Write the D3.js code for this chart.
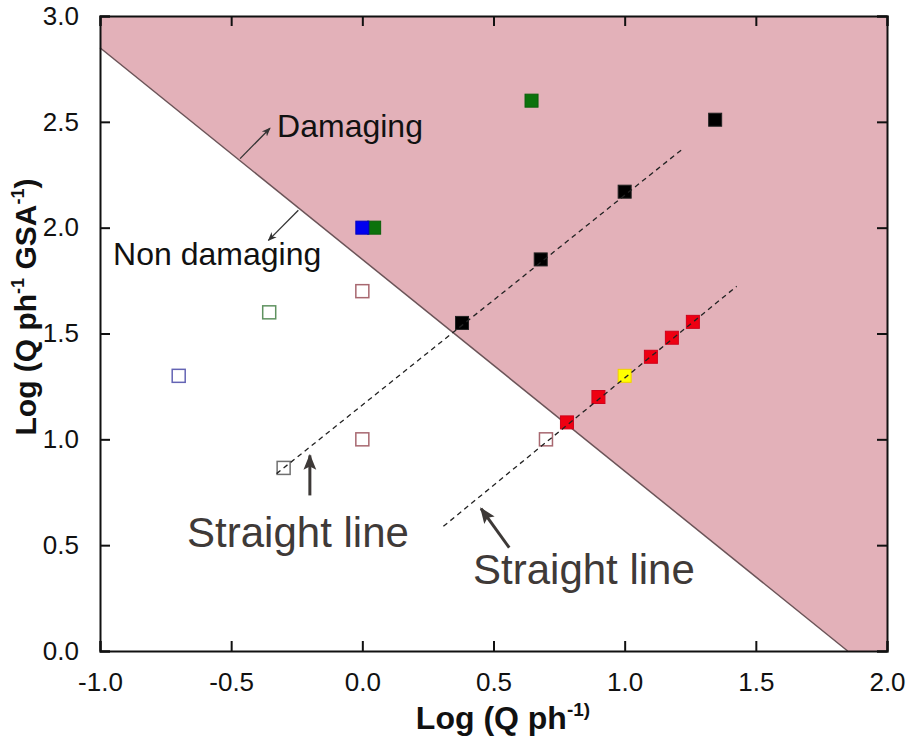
<!DOCTYPE html>
<html>
<head>
<meta charset="utf-8">
<script src="https://cdn.jsdelivr.net/npm/d3@7"></script>
<style>
  body { margin: 0; background: #fff; }
  text { font-family: "Liberation Sans", Arial, sans-serif; }
</style>
</head>
<body>
<div id="chart"></div>
<script>
// data
const xTicks = [-1.0, -0.5, 0.0, 0.5, 1.0, 1.5, 2.0]
const yTicks = [0.0, 0.5, 1.0, 1.5, 2.0, 2.5, 3.0]

const blackX = [0.38, 0.68, 1.0, 1.345]
const blackY = [1.55, 1.85, 2.17, 2.51]
const redX = [0.78, 0.9, 1.1, 1.18, 1.26]
const redY = [1.08, 1.2, 1.39, 1.48, 1.555]
const yellowX = [1.0]
const yellowY = [1.3]
const greenX = [0.045, 0.645]
const greenY = [2.0, 2.6]
const blueX = [0.0]
const blueY = [2.0]

const openBrownX = [0.0, 0.0, 0.7]
const openBrownY = [1.7, 1.0, 1.0]
const openGreenX = [-0.355]
const openGreenY = [1.6]
const openBlueX = [-0.7]
const openBlueY = [1.3]
const openBlackX = [-0.3]
const openBlackY = [0.865]

// boundary between damaging / non damaging, and the two straight lines
const boundaryX = [-1.0, 1.85]
const boundaryY = [2.85, 0.0]
const line1X = [-0.327, 1.224]
const line1Y = [0.838, 2.375]
const line2X = [0.309, 1.427]
const line2Y = [0.589, 1.723]

// set the dimensions and margins of the graph
var margin = {top: 16, right: 21, bottom: 94, left: 100},
    width = 908 - margin.left - margin.right,
    height = 745 - margin.top - margin.bottom;

let svg = d3.select("#chart")
  .append("svg")
    .attr("width", width + margin.left + margin.right)
    .attr("height", height + margin.top + margin.bottom)

let g = svg.append("g")
    .attr("transform", `translate(${margin.left}, ${margin.top})`);

const x = d3.scaleLinear().domain([-1, 2]).range([0, width])
const y = d3.scaleLinear().domain([0, 3]).range([height, 0])

const pts = (xs, ys) => xs.map((v, i) => [v, ys[i]])
const fmt = d => d.toFixed(1)   // plain hyphen for negatives, like the original

// damaging region (above the boundary)
const region = [
  [boundaryX[0], boundaryY[0]], [-1, 3], [2, 3], [2, 0], [boundaryX[1], boundaryY[1]]
]
g.append("path")
  .attr("d", d3.line().x(d => x(d[0])).y(d => y(d[1]))(region) + "Z")
  .attr("fill", "#e3b1b9")

g.append("path")
  .attr("d", d3.line().x(d => x(d[0])).y(d => y(d[1]))(pts(boundaryX, boundaryY)))
  .attr("stroke", "#6b5458")
  .attr("stroke-width", 1.5)
  .attr("fill", "none")

// markers
const size = 13
const drawSquares = (xs, ys, fill, stroke, sw) => {
  g.append("g").selectAll("rect")
    .data(pts(xs, ys))
    .join("rect")
    .attr("x", d => x(d[0]) - size / 2)
    .attr("y", d => y(d[1]) - size / 2)
    .attr("width", size)
    .attr("height", size)
    .attr("fill", fill)
    .attr("stroke", stroke)
    .attr("stroke-width", sw)
}

drawSquares(openBrownX, openBrownY, "none", "#a86870", 1.5)
drawSquares(openGreenX, openGreenY, "none", "#5f9260", 1.5)
drawSquares(openBlueX, openBlueY, "none", "#6464b4", 1.5)
drawSquares(openBlackX, openBlackY, "none", "#707070", 1.5)
drawSquares(blackX, blackY, "#000", "#222", 1)
drawSquares(redX, redY, "#ee0012", "#d0001a", 1)
drawSquares(yellowX, yellowY, "#ffff00", "#f0d000", 1)
drawSquares(greenX, greenY, "#0c720c", "#0a600a", 1)
drawSquares(blueX, blueY, "#0000f0", "#0000c0", 1)

// dashed straight lines
;[[line1X, line1Y], [line2X, line2Y]].forEach(l => {
  g.append("path")
    .attr("d", d3.line().x(d => x(d[0])).y(d => y(d[1]))(pts(l[0], l[1])))
    .attr("stroke", "#222")
    .attr("stroke-width", 1.3)
    .attr("stroke-dasharray", "5,4")
    .attr("fill", "none")
})

// axes, ticks inward on all four sides
const tickLen = 10
g.append("g")
  .attr("transform", `translate(0, ${height})`)
  .call(d3.axisBottom(x).tickValues(xTicks).tickSize(-tickLen).tickPadding(tickLen + 12).tickFormat(fmt))
g.append("g")
  .call(d3.axisTop(x).tickValues(xTicks).tickSize(-tickLen).tickFormat(""))
g.append("g")
  .call(d3.axisLeft(y).tickValues(yTicks).tickSize(-tickLen).tickPadding(tickLen + 11).tickFormat(fmt))
g.append("g")
  .attr("transform", `translate(${width}, 0)`)
  .call(d3.axisRight(y).tickValues(yTicks).tickSize(-tickLen).tickFormat(""))

g.selectAll(".domain").attr("stroke", "#111").attr("stroke-width", 2)
g.selectAll(".tick line").attr("stroke", "#111").attr("stroke-width", 2)
g.selectAll(".tick text")
  .style("font-size", "26px")
  .attr("fill", "#111")
  .style("font-family", '"Liberation Sans", Arial, sans-serif')

// arrow heads
const defs = svg.append("defs")
defs.append("marker")
  .attr("id", "thin")
  .attr("viewBox", "0 0 10 10")
  .attr("refX", 9).attr("refY", 5)
  .attr("markerWidth", 9).attr("markerHeight", 9)
  .attr("markerUnits", "userSpaceOnUse")
  .attr("orient", "auto")
  .append("path").attr("d", "M0,1 L10,5 L0,9 L3,5 Z").attr("fill", "#333")
defs.append("marker")
  .attr("id", "thick")
  .attr("viewBox", "0 0 10 10")
  .attr("refX", 9).attr("refY", 5)
  .attr("markerWidth", 16).attr("markerHeight", 16)
  .attr("markerUnits", "userSpaceOnUse")
  .attr("orient", "auto")
  .append("path").attr("d", "M0,1 L10,5 L0,9 L2,5 Z").attr("fill", "#3d3937")

const arrow = (x1, y1, x2, y2, m, color, sw) => {
  g.append("line")
    .attr("x1", x(x1)).attr("y1", y(y1))
    .attr("x2", x(x2)).attr("y2", y(y2))
    .attr("stroke", color)
    .attr("stroke-width", sw)
    .attr("marker-end", `url(#${m})`)
}
arrow(-0.466, 2.326, -0.352, 2.47, "thin", "#333", 1.3)
arrow(-0.244, 2.082, -0.358, 1.94, "thin", "#333", 1.3)
arrow(-0.2, 0.735, -0.2, 0.924, "thick", "#3d3937", 3)
arrow(0.56, 0.488, 0.4525, 0.673, "thick", "#3d3937", 3)

const label = (tx, ty, str, size, color) => {
  g.append("text")
    .attr("x", x(tx)).attr("y", y(ty))
    .text(str)
    .style("font-size", size + "px")
    .attr("fill", color)
}
label(-0.325, 2.427, "Damaging", 32, "#111")
label(-0.95, 1.822, "Non damaging", 32, "#111")
label(-0.668, 0.49, "Straight line", 42, "#3f3a38")
label(0.422, 0.315, "Straight line", 42, "#3f3a38")

// axis titles
let xt = svg.append("text")
  .attr("x", 503)
  .attr("y", 729)
  .attr("text-anchor", "middle")
  .style("font-size", "32px")
  .attr("font-weight", "bold")
  .attr("fill", "#111")
xt.append("tspan").text("Log (Q ph")
xt.append("tspan").text("-1)").attr("dy", -13).style("font-size", "19px")

let yt = svg.append("text")
  .attr("transform", "translate(36, 307) rotate(-90)")
  .attr("text-anchor", "middle")
  .style("font-size", "30px")
  .attr("font-weight", "bold")
  .attr("fill", "#111")
yt.append("tspan").text("Log (Q ph")
yt.append("tspan").text("-1").attr("dy", -12).style("font-size", "18px")
yt.append("tspan").text(" GSA").attr("dy", 12)
yt.append("tspan").text("-1").attr("dy", -12).style("font-size", "18px")
yt.append("tspan").text(")").attr("dy", 12)
</script>
</body>
</html>
